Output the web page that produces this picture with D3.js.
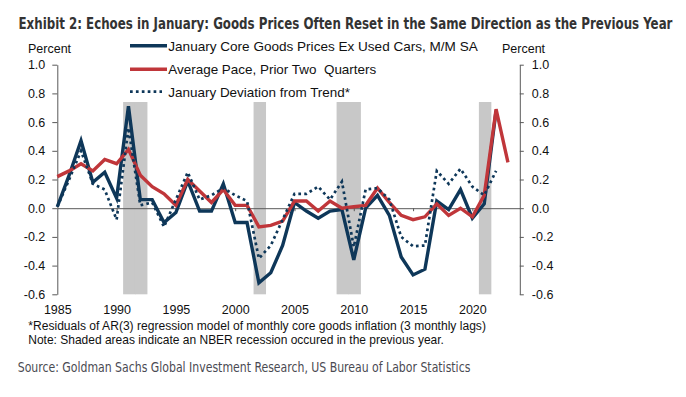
<!DOCTYPE html>
<html>
<head>
<meta charset="utf-8">
<script src="https://cdn.jsdelivr.net/npm/d3@7"></script>
<style>
  body { margin: 0; background: #fff; }
  svg { display: block; }
  text { font-family: "Liberation Sans", Arial, sans-serif; }
</style>
</head>
<body>
<div id="chart"></div>
<script>
// Data (January readings, percent)
var years = [1985, 1986, 1987, 1988, 1989, 1990, 1991, 1992, 1993, 1994,
             1995, 1996, 1997, 1998, 1999, 2000, 2001, 2002, 2003, 2004,
             2005, 2006, 2007, 2008, 2009, 2010, 2011, 2012, 2013, 2014,
             2015, 2016, 2017, 2018, 2019, 2020, 2021, 2022, 2023];

var coreGoods = [0.01, 0.23, 0.47, 0.18, 0.25, 0.07, 0.71, 0.06, 0.06, -0.10,
                 -0.03, 0.19, -0.02, -0.02, 0.17, -0.10, -0.10, -0.52, -0.45, -0.26,
                 0.04, -0.02, -0.07, -0.02, -0.01, -0.36, 0.00, 0.09, -0.05, -0.34,
                 -0.465, -0.425, 0.05, -0.01, 0.13, -0.07, 0.03, 0.68];

var avgPace = [0.22, 0.26, 0.31, 0.26, 0.34, 0.31, 0.41, 0.23, 0.15, 0.10,
               0.02, 0.20, 0.12, 0.04, 0.13, 0.02, 0.02, -0.13, -0.12, -0.09,
               0.05, 0.05, -0.02, 0.05, 0.00, 0.01, 0.02, 0.14, 0.04, -0.05,
               -0.08, -0.06, 0.03, -0.05, 0.00, -0.06, 0.09, 0.69, 0.32];

var deviation = [0.01, 0.20, 0.40, 0.17, 0.13, -0.08, 0.56, 0.02, 0.04, -0.13,
                 0.06, 0.25, 0.06, 0.09, 0.14, 0.09, 0.05, -0.35, -0.26, -0.08,
                 0.10, 0.10, 0.15, 0.06, 0.185, -0.27, 0.13, 0.14, 0.06, -0.20,
                 -0.265, -0.26, 0.26, 0.17, 0.275, 0.15, 0.09, 0.26];

// January after an NBER recession year
var recessionYears = [1991, 1992, 2002, 2009, 2010, 2021];
var recessionTop = 0.74;

var yTicks = [-0.6, -0.4, -0.2, 0, 0.2, 0.4, 0.6, 0.8, 1.0];
var yearLabels = [1985, 1990, 1995, 2000, 2005, 2010, 2015, 2020];

var seriesNames = ["January Core Goods Prices Ex Used Cars, M/M SA",
                   "Average Pace, Prior Two  Quarters",
                   "January Deviation from Trend*"];

// Layout
var width = 686, height = 397;
var navy = "#0e3759", red = "#c0363a", shade = "#c8c8c8", axisColor = "#595959";
var narrow = "'Liberation Sans Narrow', 'DejaVu Sans Condensed', sans-serif";

var svg = d3.select("#chart").append("svg")
    .attr("width", width)
    .attr("height", height);

var x = d3.scaleLinear().domain([1985, 2024]).range([57.3, 519.8]);
var y = d3.scaleLinear().domain([-0.6, 1.0]).range([294.3, 64.7]);

var fmt = function(v) { return (Math.abs(v) < 1e-9 ? 0 : v).toFixed(1); };

// squeeze/stretch a text horizontally so it spans w pixels
function fitText(sel, px, py, w) {
    var natural = sel.node().getComputedTextLength();
    sel.attr("x", 0).attr("y", 0)
        .attr("transform", "translate(" + px + "," + py + ") scale(" + (w / natural) + ",1)");
}

// Title
svg.append("text")
    .attr("fill", "#333")
    .style("font-family", narrow)
    .style("font-size", "16.5px")
    .style("font-weight", "bold")
    .text("Exhibit 2: Echoes in January: Goods Prices Often Reset in the Same Direction as the Previous Year")
    .call(fitText, 18.5, 28.5, 655);

// Recession shading (slight overlap so adjacent years merge)
var yearWidth = x(1986) - x(1985);
svg.append("g")
    .selectAll("rect")
    .data(recessionYears)
    .enter().append("rect")
    .attr("x", function(d) { return x(d) - yearWidth / 2 + 0.6; })
    .attr("width", yearWidth + 0.6)
    .attr("y", y(recessionTop))
    .attr("height", y(-0.6) - y(recessionTop))
    .attr("fill", shade);

// Zero line with 5-year ticks
svg.append("g")
    .attr("transform", "translate(0," + y(0) + ")")
    .call(d3.axisBottom(x)
        .tickValues(yearLabels.slice(1))
        .tickSize(3)
        .tickSizeOuter(0)
        .tickFormat(""))
    .call(function(g) {
        g.selectAll("line, path").attr("stroke", axisColor);
    });

// Left axis
var left = svg.append("g")
    .attr("transform", "translate(" + x(1985) + ",0)")
    .call(d3.axisLeft(y)
        .tickValues(yTicks)
        .tickSize(5)
        .tickSizeOuter(0)
        .tickPadding(7)
        .tickFormat(fmt));

// Right axis
var right = svg.append("g")
    .attr("transform", "translate(" + x(2024) + ",0)")
    .call(d3.axisRight(y)
        .tickValues(yTicks)
        .tickSize(4)
        .tickSizeOuter(0)
        .tickPadding(8)
        .tickFormat(fmt));

[left, right].forEach(function(g) {
    g.selectAll("line, path").attr("stroke", axisColor);
    g.selectAll("text")
        .attr("fill", "#111")
        .style("font-size", "12.5px")
        .style("font-family", "'Liberation Sans', Arial, sans-serif");
});

// Year labels
svg.append("g")
    .attr("transform", "translate(0," + y(-0.6) + ")")
    .call(d3.axisBottom(x)
        .tickValues(yearLabels)
        .tickSize(0)
        .tickPadding(11)
        .tickFormat(d3.format("d")))
    .call(function(g) {
        g.select(".domain").remove();
        g.selectAll("text")
            .attr("fill", "#111")
            .style("font-size", "12.5px")
            .style("font-family", "'Liberation Sans', Arial, sans-serif");
    });

// "Percent" labels
svg.append("text").attr("x", 28).attr("y", 53).text("Percent")
    .attr("fill", "#111").style("font-size", "12.5px");
svg.append("text").attr("x", 502).attr("y", 53).text("Percent")
    .attr("fill", "#111").style("font-size", "12.5px");

// Lines
var line = d3.line()
    .x(function(d, i) { return x(years[i]); })
    .y(function(d) { return y(d); });

svg.append("path")
    .datum(coreGoods)
    .attr("fill", "none")
    .attr("stroke", navy)
    .attr("stroke-width", 3.4)
    .attr("d", line);

svg.append("path")
    .datum(avgPace)
    .attr("fill", "none")
    .attr("stroke", red)
    .attr("stroke-width", 3.4)
    .attr("d", line);

svg.append("path")
    .datum(deviation)
    .attr("fill", "none")
    .attr("stroke", navy)
    .attr("stroke-width", 2.7)
    .attr("stroke-dasharray", "2.7 3.2")
    .attr("d", line);

// Legend
var legendY = [45.7, 69.3, 91.7];
var legendW = [310, 208, 182];
var legend = svg.append("g").attr("class", "legend");

legend.selectAll("line")
    .data(seriesNames)
    .enter().append("line")
    .attr("x1", 130)
    .attr("x2", function(d, i) { return i == 2 ? 162 : 167; })
    .attr("y1", function(d, i) { return legendY[i]; })
    .attr("y2", function(d, i) { return legendY[i]; })
    .attr("stroke", function(d, i) { return i == 1 ? red : navy; })
    .attr("stroke-width", function(d, i) { return i == 2 ? 2.7 : 3.4; })
    .attr("stroke-dasharray", function(d, i) { return i == 2 ? "2.7 3.2" : null; });

legend.selectAll("text")
    .data(seriesNames)
    .enter().append("text")
    .attr("fill", "#111")
    .style("font-size", "13px")
    .style("white-space", "pre")
    .text(function(d) { return d; })
    .each(function(d, i) {
        d3.select(this).call(fitText, 168.3, legendY[i] + 4.8, legendW[i]);
    });

// Footnotes
svg.append("text")
    .attr("fill", "#111")
    .style("font-size", "12px")
    .text("*Residuals of AR(3) regression model of monthly core goods inflation (3 monthly lags)")
    .call(fitText, 28.3, 330, 458);

svg.append("text")
    .attr("fill", "#111")
    .style("font-size", "12px")
    .text("Note: Shaded areas indicate an NBER recession occured in the previous year.")
    .call(fitText, 28.3, 343.6, 416);

svg.append("text")
    .attr("fill", "#4a4a52")
    .style("font-family", narrow)
    .style("font-size", "14px")
    .text("Source: Goldman Sachs Global Investment Research, US Bureau of Labor Statistics")
    .call(fitText, 17.7, 372.2, 453);
</script>
</body>
</html>
